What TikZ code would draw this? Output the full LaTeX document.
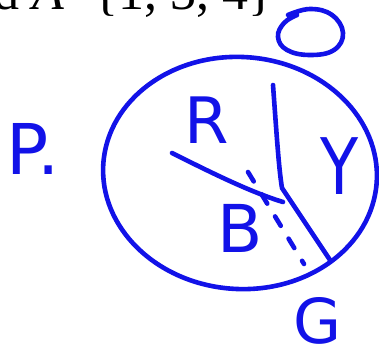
\documentclass[tikz,border=0pt]{standalone}
\usepackage{fontspec}
\setmainfont{Liberation Serif}
\newfontfamily\handfont{DejaVu Sans}
\definecolor{pen}{RGB}{18,18,232}
\begin{document}
\begin{tikzpicture}[x=1pt,y=-1pt,
  ink/.style={draw=pen,line width=4.6pt,line cap=round,line join=round},
  hand/.style={text=pen,inner sep=0pt,anchor=base,font=\handfont\fontsize{#1}{#1}\selectfont},
  dashink/.style={ink,dash pattern=on 11pt off 15pt}]
\useasboundingbox (0,0) rectangle (379,358);
\fill[white] (0,0) rectangle (379,358);
\clip (0,0) rectangle (379,358);
% top text
\node[anchor=base west,inner sep=0pt,font=\fontsize{52}{52}\selectfont] (title) at (-7,10) {d \textit{A}=\{1, 3, 4\}};
% big circle
\draw[ink,rotate around={-4:(240,173)}] (240,173) ellipse [x radius=137, y radius=116];
% small circle
\draw[ink] plot[smooth,tension=0.7] coordinates {(288,15) (310,9) (332,15) (343,33) (334,50) (310,55) (287,50) (278,37) (284,23) (297,15)};
% lines
\draw[ink] (273,85) .. controls (277,140) and (279,170) .. (282,188) -- (330,260);
\draw[ink] (172,153) .. controls (210,172) and (250,192) .. (283,202);
\draw[dashink] (248,172) -- (304,264);
% letters
\node[hand=64] (R) at (207,143) {R};
\node[hand=78,xscale=0.8] (Y) at (340,194) {Y};
\node[hand=66] (B) at (240,252) {B};
\node[hand=70,anchor=base west] (P) at (6,174) {P.};
\node[hand=62] (G) at (318,343) {G};
\end{tikzpicture}
\end{document}
